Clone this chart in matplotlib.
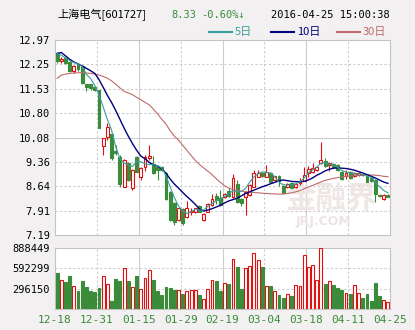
import matplotlib
matplotlib.use("Agg")
import matplotlib.pyplot as plt
import numpy as np

# 601727 daily K-line, 80 sessions 12-18 .. 04-25
opens = [12.58, 12.36, 12.43, 12.33, 12.06, 12.26, 12.20, 11.66, 11.66, 11.59,
         11.49, 9.83, 10.09, 10.18, 9.68, 9.51, 8.62, 9.33, 8.58, 9.49,
         8.92, 9.22, 9.47, 9.29, 9.22, 9.22, 9.02, 8.47, 8.14, 7.63,
         7.95, 7.73, 7.86, 7.88, 8.05, 7.63, 7.88, 8.08, 8.35, 8.28,
         8.31, 8.50, 8.33, 8.70, 8.25, 8.33, 8.38, 8.62, 8.92, 9.04,
         8.92, 9.04, 8.82, 8.93, 8.64, 8.60, 8.74, 8.60, 8.73, 8.80,
         9.02, 9.06, 9.12, 9.31, 9.39, 9.27, 9.29, 9.27, 9.07, 8.94,
         9.06, 8.94, 8.96, 9.00, 8.93, 8.88, 8.82, 8.38, 8.25, 8.39]
closes = [12.36, 12.40, 12.30, 12.06, 12.20, 12.10, 11.69, 11.59, 11.54, 11.49,
          10.35, 10.06, 10.38, 9.46, 9.61, 8.69, 9.41, 8.82, 9.12, 9.07,
          9.17, 9.51, 9.53, 9.02, 9.12, 9.12, 8.25, 7.63, 7.58, 7.98,
          7.54, 7.98, 7.89, 7.98, 7.88, 7.81, 8.11, 8.25, 8.23, 8.08,
          8.42, 8.35, 8.87, 8.18, 8.13, 8.47, 8.67, 9.02, 9.04, 8.94,
          9.07, 8.77, 8.93, 8.78, 8.44, 8.70, 8.59, 8.70, 8.76, 8.97,
          9.14, 9.18, 9.21, 9.41, 9.23, 9.32, 9.21, 9.12, 8.84, 9.04,
          8.87, 9.04, 9.04, 8.96, 8.77, 8.78, 8.40, 8.34, 8.38, 8.33]
highs = [12.62, 12.46, 12.46, 12.36, 12.22, 12.28, 12.22, 11.68, 11.68, 11.62,
         11.50, 10.08, 10.51, 10.20, 9.85, 9.55, 9.45, 9.36, 9.14, 9.52,
         9.20, 9.55, 9.86, 9.52, 9.26, 9.25, 9.05, 8.50, 8.16, 8.00,
         7.98, 8.19, 7.98, 8.00, 8.08, 7.83, 8.13, 8.41, 8.44, 8.52,
         8.44, 8.57, 9.00, 8.83, 8.28, 8.50, 8.70, 9.13, 9.13, 9.06,
         9.27, 9.06, 8.95, 8.96, 8.66, 8.72, 8.76, 8.74, 8.89, 9.22,
         9.24, 9.31, 9.24, 9.96, 9.46, 9.35, 9.31, 9.29, 9.09, 9.12,
         9.08, 9.06, 9.06, 9.02, 8.95, 8.90, 8.84, 8.40, 8.40, 8.41]
lows = [12.30, 12.30, 12.27, 12.03, 11.98, 12.06, 11.66, 11.45, 11.50, 11.45,
        10.35, 9.56, 10.00, 9.42, 9.55, 8.62, 8.60, 8.78, 8.51, 9.05,
        8.82, 9.10, 9.42, 9.00, 8.82, 9.08, 8.22, 7.60, 7.50, 7.60,
        7.50, 7.70, 7.78, 7.85, 7.86, 7.60, 7.86, 8.05, 8.12, 8.05,
        8.28, 8.33, 8.30, 8.15, 8.05, 7.79, 8.35, 8.60, 8.90, 8.90,
        8.90, 8.75, 8.80, 8.64, 8.42, 8.57, 8.57, 8.57, 8.68, 8.78,
        8.92, 9.04, 9.10, 9.29, 9.21, 9.10, 9.18, 9.10, 8.82, 8.86,
        8.84, 8.92, 8.94, 8.94, 8.75, 8.76, 8.17, 8.32, 8.23, 8.31]

ma5 = [12.57, 12.52, 12.44, 12.36, 12.30, 12.26, 12.18, 11.95, 11.83, 11.62,
       11.35, 10.99, 10.62, 10.30, 9.81, 9.45, 9.33, 9.26, 9.22, 9.38,
       9.36, 9.30, 9.28, 9.28, 9.24, 9.18, 8.95, 8.62, 8.30, 8.05,
       7.90, 7.83, 7.87, 7.96, 7.93, 7.93, 8.04, 8.12, 8.20, 8.27,
       8.33, 8.42, 8.50, 8.47, 8.48, 8.57, 8.76, 8.91, 9.01, 9.06,
       9.05, 9.02, 8.92, 8.75, 8.68, 8.67, 8.67, 8.71, 8.76, 8.88,
       9.03, 9.12, 9.20, 9.32, 9.33, 9.29, 9.26, 9.20, 9.10, 9.06,
       9.02, 9.00, 9.00, 8.99, 8.94, 8.90, 8.76, 8.62, 8.51, 8.44]
ma10 = [12.57, 12.60, 12.50, 12.40, 12.32, 12.26, 12.20, 12.13, 12.06, 11.98,
        11.80, 11.57, 11.33, 11.12, 10.88, 10.62, 10.36, 10.12, 9.90, 9.70,
        9.53, 9.45, 9.34, 9.28, 9.23, 9.16, 9.02, 8.85, 8.70, 8.58,
        8.45, 8.33, 8.22, 8.10, 7.96, 7.90, 7.93, 7.97, 8.02, 8.07,
        8.14, 8.20, 8.24, 8.28, 8.35, 8.42, 8.47, 8.52, 8.57, 8.62,
        8.66, 8.71, 8.75, 8.80, 8.82, 8.80, 8.78, 8.77, 8.77, 8.78,
        8.82, 8.88, 8.96, 9.02, 9.09, 9.14, 9.17, 9.18, 9.17, 9.16,
        9.14, 9.11, 9.07, 9.03, 8.98, 8.93, 8.88, 8.82, 8.76, 8.72]
ma30 = [11.83, 11.93, 11.96, 11.98, 11.99, 12.00, 12.00, 11.99, 11.98, 11.96,
        11.93, 11.89, 11.84, 11.76, 11.66, 11.55, 11.45, 11.40, 11.35, 11.27,
        11.20, 11.12, 11.05, 10.92, 10.78, 10.62, 10.48, 10.28, 10.12, 10.00,
        9.85, 9.70, 9.55, 9.40, 9.28, 9.18, 9.08, 8.98, 8.86, 8.75,
        8.65, 8.58, 8.54, 8.51, 8.49, 8.47, 8.46, 8.45, 8.44, 8.43,
        8.42, 8.41, 8.41, 8.40, 8.41, 8.42, 8.44, 8.47, 8.51, 8.56,
        8.61, 8.66, 8.71, 8.76, 8.81, 8.84, 8.87, 8.89, 8.91, 8.93,
        8.94, 8.95, 8.96, 8.97, 8.97, 8.97, 8.96, 8.95, 8.93, 8.92]

volumes = [528, 420, 390, 484, 331, 262, 405, 316, 262, 247,
           306, 479, 360, 123, 434, 410, 592, 405, 316, 479,
           296, 449, 568, 420, 262, 197, 316, 301, 276, 271,
           212, 257, 271, 271, 197, 148, 296, 420, 405, 262,
           380, 360, 730, 617, 296, 592, 627, 814, 716, 607,
           331, 331, 257, 197, 163, 222, 183, 346, 331, 790,
           607, 642, 420, 888, 360, 405, 346, 311, 271, 237,
           212, 355, 237, 163, 212, 123, 380, 183, 133, 99]
vol_up = [0, 1, 0, 0, 1, 0, 0, 0, 0, 0, 0, 1, 1, 0, 0, 0, 1, 0, 1, 0,
          1, 1, 1, 0, 0, 0, 0, 0, 0, 1, 0, 1, 1, 1, 0, 1, 1, 1, 0, 0,
          1, 0, 1, 0, 0, 1, 1, 1, 1, 0, 1, 0, 1, 0, 0, 1, 0, 1, 1, 1,
          1, 1, 1, 1, 0, 1, 0, 0, 0, 1, 0, 1, 1, 0, 0, 0, 0, 0, 1, 1]

price_ticks = [7.19, 7.91, 8.64, 9.36, 10.08, 10.80, 11.53, 12.25, 12.97]
vol_ticks = [296150, 592299, 888449]
date_labels = ["12-18", "12-31", "01-15", "01-29", "02-19", "03-04", "03-18", "04-11", "04-25"]

RED = "#dd1111"
GREEN = "#3a8c3a"
GRID = "#cccccc"
BG = "#f2f0f0"

plt.rcParams['font.family'] = ['DejaVu Sans Mono']

fig = plt.figure(figsize=(4.15, 3.30), dpi=100)
fig.patch.set_facecolor(BG)

ax1 = fig.add_axes([55 / 415, 1 - 235 / 330, 335 / 415, 195 / 330])
ax2 = fig.add_axes([55 / 415, 1 - 309 / 330, 335 / 415, 61 / 330])

n = len(closes)
x = np.arange(n) + 0.5
o = np.array(opens)
c = np.array(closes)
up = c >= o

for ax in (ax1, ax2):
    ax.set_facecolor("white")
    ax.set_xlim(0, 80)
    for s in ax.spines.values():
        s.set_color("#c4c4c4")
    for k in range(1, 8):
        if k % 2 == 0:
            ax.axvline(k * 10, color=GRID, lw=0.8, zorder=0)
        else:
            ax.axvline(k * 10, color=GRID, lw=0.8, ls=(0, (2, 2)), zorder=0)
    ax.tick_params(length=0, labelsize=7.5)

# price panel
ax1.set_ylim(7.19, 12.97)
for t in price_ticks[1:-1]:
    if abs(t - 10.08) < 1e-6:
        ax1.axhline(t, color=GRID, lw=0.8, zorder=0)
    else:
        ax1.axhline(t, color=GRID, lw=0.8, ls=(0, (2, 2)), zorder=0)
ax1.set_yticks(price_ticks)
ax1.set_yticklabels(["%.2f" % t for t in price_ticks])
ax1.set_xticks([])

ax1.text(66, 8.0, "金融界", fontsize=22, color="#efe6e6", ha="center",
         family=["Noto Sans CJK SC"], zorder=0.5, fontweight="bold")
ax1.text(64, 7.5, "JRJ.COM", fontsize=9, color="#ece4e4", ha="center",
         family=["DejaVu Sans"], fontweight="bold", zorder=0.5)

ax1.vlines(x, lows, highs, colors=np.where(up, RED, GREEN), lw=0.8, zorder=2)
bottoms = np.minimum(o, c)
heights = np.maximum(np.abs(c - o), 0.01)
ax1.bar(x[up], heights[up], bottom=bottoms[up], width=0.68, facecolor="white",
        edgecolor=RED, lw=0.8, zorder=3)
ax1.bar(x[~up], heights[~up], bottom=bottoms[~up], width=0.68, facecolor=GREEN,
        edgecolor=GREEN, lw=0.8, zorder=3)

ax1.plot(x, ma30, color="#c06a6a", lw=0.8, zorder=4)
ax1.plot(x, ma10, color="#000080", lw=1.0, zorder=4)
ax1.plot(x, ma5, color="#3a9e9e", lw=0.8, zorder=4)

# volume panel
vu = np.array(vol_up, dtype=bool)
v = np.array(volumes) * 1000
ax2.set_ylim(0, 888449)
for t in vol_ticks[:-1]:
    ax2.axhline(t, color=GRID, lw=0.8, ls=(0, (2, 2)), zorder=0)
ax2.bar(x[vu], v[vu], width=0.7, facecolor="white", edgecolor=RED, lw=0.8, zorder=3)
ax2.bar(x[~vu], v[~vu], width=0.7, facecolor=GREEN, edgecolor=GREEN, lw=0.8, zorder=3)
ax2.set_yticks(vol_ticks)
ax2.set_yticklabels([str(t) for t in vol_ticks])
ax2.set_xticks(np.arange(0, 81, 10))
ax2.set_xticklabels(date_labels, color=GREEN, fontsize=8)
ax2.tick_params(axis="x", pad=4)

# header
cjk = ["Noto Sans CJK SC", "DejaVu Sans"]
fig.text(57 / 415, 1 - 15 / 330, "上海电气[601727]", fontsize=8, family=cjk, va="center")
fig.text(171 / 415, 1 - 15 / 330, "8.33", fontsize=7.5, color=GREEN, va="center")
fig.text(201 / 415, 1 - 15 / 330, "-0.60%↓", fontsize=7.5, color=GREEN, va="center",
         family=["DejaVu Sans Mono", "DejaVu Sans"])
fig.text(390 / 415, 1 - 15 / 330, "2016-04-25 15:00:38", fontsize=7.5, ha="right", va="center")

legend_items = [(209, "5日", "#3a9e9e"), (271, "10日", "#000080"), (337, "30日", "#c06a6a")]
for lx, lab, col in legend_items:
    fig.add_artist(plt.Line2D([lx / 415, (lx + 23) / 415], [1 - 32 / 330, 1 - 32 / 330],
                              color=col, lw=1.5))
    fig.text((lx + 26) / 415, 1 - 32 / 330, lab, fontsize=8, color=col, va="center", family=cjk)

fig.savefig("out.png", dpi=100, facecolor=BG)
